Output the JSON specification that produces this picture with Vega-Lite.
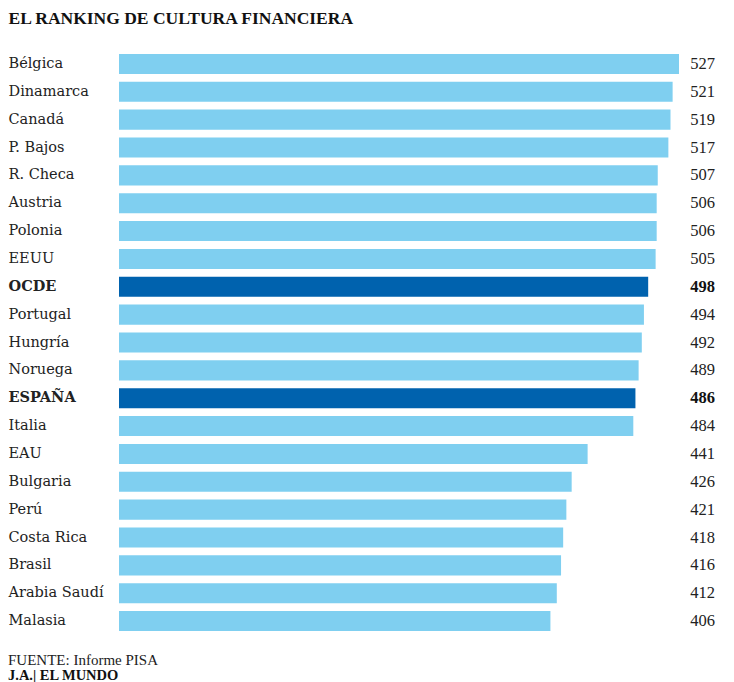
{
  "$schema": "https://vega.github.io/schema/vega-lite/v6.json",
  "width": 560,
  "height": 585,
  "autosize": "none",
  "padding": {"left": 119, "top": 50, "right": 55, "bottom": 47},
  "background": "white",
  "config": {"view": {"stroke": null}, "font": "DejaVu Serif"},
  "title": {
    "text": "FUENTE: Informe PISA",
    "subtitle": "J.A.| EL MUNDO",
    "orient": "bottom",
    "anchor": "start",
    "offset": 18,
    "font": "Liberation Serif",
    "fontSize": 15,
    "fontWeight": "normal",
    "color": "#222222",
    "subtitleFont": "Liberation Serif",
    "subtitleFontSize": 14.5,
    "subtitleFontWeight": "bold",
    "subtitleColor": "#111111",
    "subtitlePadding": 1
  },
  "data": {
    "values": [
      {"pais": "Bélgica", "puntos": 527, "tipo": "país"},
      {"pais": "Dinamarca", "puntos": 521, "tipo": "país"},
      {"pais": "Canadá", "puntos": 519, "tipo": "país"},
      {"pais": "P. Bajos", "puntos": 517, "tipo": "país"},
      {"pais": "R. Checa", "puntos": 507, "tipo": "país"},
      {"pais": "Austria", "puntos": 506, "tipo": "país"},
      {"pais": "Polonia", "puntos": 506, "tipo": "país"},
      {"pais": "EEUU", "puntos": 505, "tipo": "país"},
      {"pais": "OCDE", "puntos": 498, "tipo": "referencia"},
      {"pais": "Portugal", "puntos": 494, "tipo": "país"},
      {"pais": "Hungría", "puntos": 492, "tipo": "país"},
      {"pais": "Noruega", "puntos": 489, "tipo": "país"},
      {"pais": "ESPAÑA", "puntos": 486, "tipo": "referencia"},
      {"pais": "Italia", "puntos": 484, "tipo": "país"},
      {"pais": "EAU", "puntos": 441, "tipo": "país"},
      {"pais": "Bulgaria", "puntos": 426, "tipo": "país"},
      {"pais": "Perú", "puntos": 421, "tipo": "país"},
      {"pais": "Costa Rica", "puntos": 418, "tipo": "país"},
      {"pais": "Brasil", "puntos": 416, "tipo": "país"},
      {"pais": "Arabia Saudí", "puntos": 412, "tipo": "país"},
      {"pais": "Malasia", "puntos": 406, "tipo": "país"}
    ]
  },
  "encoding": {
    "y": {
      "field": "pais",
      "type": "nominal",
      "sort": null,
      "scale": {"paddingInner": 0.28, "paddingOuter": 0.14},
      "axis": {
        "title": null,
        "domain": false,
        "ticks": false,
        "tickSize": 0,
        "labelAlign": "left",
        "labelPadding": 111,
        "labelFont": "DejaVu Serif",
        "labelFontSize": 14.5,
        "labelColor": "#222222",
        "labelFontWeight": {
          "condition": {"test": "datum.value === 'OCDE' || datum.value === 'ESPAÑA'", "value": "bold"},
          "value": "normal"
        }
      }
    }
  },
  "layer": [
    {
      "mark": {"type": "bar"},
      "encoding": {
        "x": {
          "field": "puntos",
          "type": "quantitative",
          "scale": {"domain": [0, 527], "nice": false, "zero": true},
          "axis": {
            "orient": "top",
            "title": "EL RANKING DE CULTURA FINANCIERA",
            "titleFont": "Liberation Serif",
            "titleFontSize": 17.5,
            "titleFontWeight": "bold",
            "titleColor": "#111111",
            "titleAlign": "left",
            "titleAnchor": "start",
            "titleBaseline": "alphabetic",
            "titleX": -111,
            "titleY": -27,
            "labels": false,
            "ticks": false,
            "domain": false,
            "grid": false
          }
        },
        "color": {
          "field": "tipo",
          "type": "nominal",
          "scale": {"domain": ["país", "referencia"], "range": ["#7fcff0", "#0062ae"]},
          "legend": null
        }
      }
    },
    {
      "transform": [{"filter": "datum.tipo === 'país'"}],
      "mark": {
        "type": "text",
        "x": "width",
        "dx": 36,
        "align": "right",
        "baseline": "middle",
        "font": "Liberation Serif",
        "fontSize": 16.5,
        "color": "#222222"
      },
      "encoding": {
        "text": {"field": "puntos", "type": "quantitative"}
      }
    },
    {
      "transform": [{"filter": "datum.tipo === 'referencia'"}],
      "mark": {
        "type": "text",
        "x": "width",
        "dx": 36,
        "align": "right",
        "baseline": "middle",
        "font": "Liberation Serif",
        "fontSize": 16.5,
        "fontWeight": "bold",
        "color": "#111111"
      },
      "encoding": {
        "text": {"field": "puntos", "type": "quantitative"}
      }
    }
  ]
}
